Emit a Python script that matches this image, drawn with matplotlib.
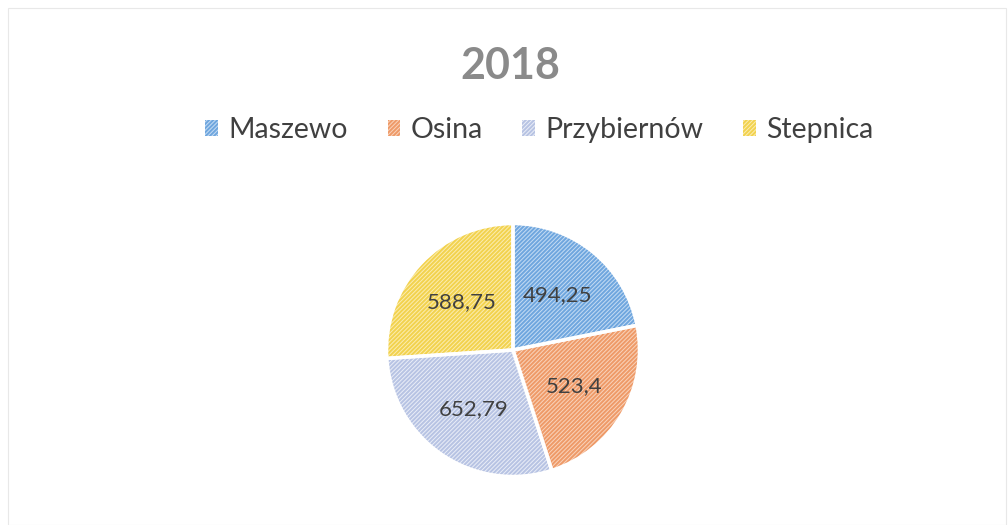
import numpy as np
import matplotlib.pyplot as plt
from matplotlib.patches import Rectangle

plt.rcParams['font.family'] = ['Lato', 'DejaVu Sans']
plt.rcParams['hatch.linewidth'] = 1.4

categories = ["Maszewo", "Osina", "Przybiernów", "Stepnica"]
values = [494.25, 523.4, 652.79, 588.75]
labels = ["494,25", "523,4", "652,79", "588,75"]
light = ["#c4dcf4", "#f9d3bb", "#e9edf7", "#fbecb0"]
strong = ["#6fa6de", "#ee9a68", "#b7c3e3", "#f2d24e"]

fig = plt.figure(figsize=(10.08, 5.25), dpi=100)
fig.patches.append(Rectangle((0.008, 0.0), 0.99, 0.985, transform=fig.transFigure,
                             fill=False, ec="#e8e8e8", lw=0.8))

R = 129
ax = fig.add_axes([(513 - R) / 1008, (525 - 350 - R) / 525, 2 * R / 1008, 2 * R / 525])
wedges, _ = ax.pie(values, startangle=90, counterclock=False, colors=light,
                   wedgeprops=dict(linewidth=0))
for w, c in zip(wedges, strong):
    w.set_edgecolor(c)
    w.set_hatch("////////")
ax.pie(values, startangle=90, counterclock=False, colors=["none"] * 4,
       wedgeprops=dict(edgecolor="white", linewidth=2.5))

for w, lab in zip(wedges, labels):
    ang = np.deg2rad((w.theta1 + w.theta2) / 2)
    ax.text(0.56 * np.cos(ang), 0.56 * np.sin(ang), lab, ha="center", va="center",
            fontsize=16, color="#404040")
ax.set_aspect("equal")
ax.set_xlim(-1.02, 1.02)
ax.set_ylim(-1.02, 1.02)

fig.text(0.506, 0.875, "2018", ha="center", va="center", fontsize=31,
         fontweight="bold", color="#8a8a8a")
fig.legend(wedges, categories, loc="center", bbox_to_anchor=(0.535, 0.752), ncol=4,
           frameon=False, fontsize=20.5, handlelength=0.45, handleheight=0.45,
           handletextpad=0.35, columnspacing=1.4, labelcolor="#404040")

fig.savefig("out.png", dpi=100)
